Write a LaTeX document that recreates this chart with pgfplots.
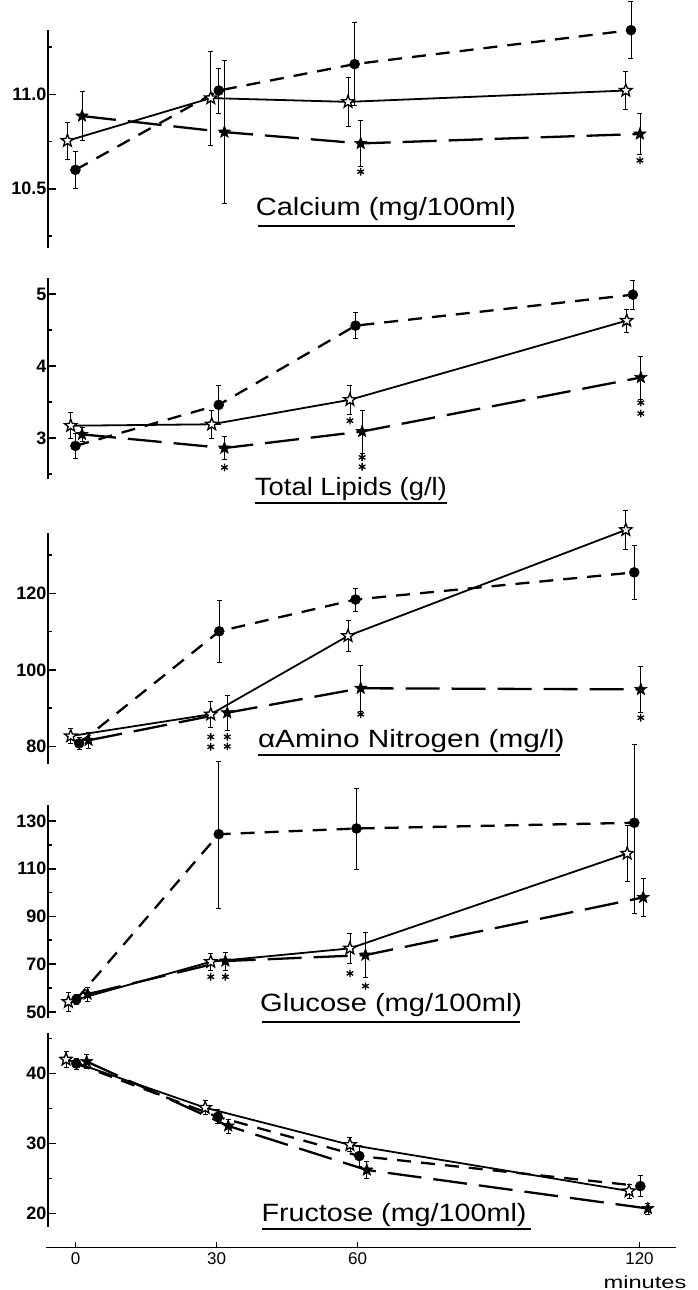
\documentclass[border=0pt]{standalone}
\usepackage{pgfplots}
\pgfplotsset{compat=1.18}
\usepackage{fontspec}
\setmainfont{Liberation Sans}
\usepackage{graphicx}

\pgfdeclareplotmark{fivestar}{%
  \pgfpathmoveto{\pgfpointpolar{90}{\pgfplotmarksize}}%
  \pgfpathlineto{\pgfpointpolar{126}{0.42*\pgfplotmarksize}}%
  \pgfpathlineto{\pgfpointpolar{162}{\pgfplotmarksize}}%
  \pgfpathlineto{\pgfpointpolar{198}{0.42*\pgfplotmarksize}}%
  \pgfpathlineto{\pgfpointpolar{234}{\pgfplotmarksize}}%
  \pgfpathlineto{\pgfpointpolar{270}{0.42*\pgfplotmarksize}}%
  \pgfpathlineto{\pgfpointpolar{306}{\pgfplotmarksize}}%
  \pgfpathlineto{\pgfpointpolar{342}{0.42*\pgfplotmarksize}}%
  \pgfpathlineto{\pgfpointpolar{18}{\pgfplotmarksize}}%
  \pgfpathlineto{\pgfpointpolar{54}{0.42*\pgfplotmarksize}}%
  \pgfpathclose
  \pgfusepathqfillstroke
}

\pgfplotsset{
  panel/.style={
    x=4.7pt, xmin=-5.9, xmax=128,
    axis x line=none, axis y line=left,
    axis line style={-, line width=1.8pt},
    clip=false,
    tick align=inside,
    major tick length=8pt, minor tick length=4pt,
    every tick/.style={black, line width=1.6pt},
    yticklabel style={font=\bfseries\fontsize{18}{18}\selectfont, inner sep=1pt},
    anchor=south west,
  },
  eb/.style={error bars/.cd, y dir=both, y explicit,
    error bar style={line width=0.7pt, solid},
    error mark options={rotate=90, mark size=2.5pt, line width=0.7pt, solid}},
  circ/.style={black, line width=2.3pt, dash pattern=on 14pt off 10pt,
    mark=*, mark size=5pt, mark options={solid, fill=black, line width=0.5pt}, eb},
  ostar/.style={black, line width=1.8pt, solid,
    mark=fivestar, mark size=6.5pt, mark options={solid, fill=white, line width=1.3pt}, eb},
  fstar/.style={black, line width=2.3pt, dash pattern=on 34pt off 12pt,
    mark=fivestar, mark size=6.5pt, mark options={solid, fill=black, line width=0.5pt}, eb},
  ast/.style={black, only marks, mark=asterisk, mark size=3.8pt, mark options={solid, line width=1.3pt}},
}

\newcommand{\ptitle}[4]{%
  \node[anchor=base west, inner sep=0pt] at (#1pt,-#2pt)
    {\resizebox{#3pt}{\height}{\fontsize{25}{25}\selectfont #4}};}

\begin{document}
\begin{tikzpicture}
\useasboundingbox (0,0) rectangle (697pt,-1290pt);

% ---------------- Calcium ----------------
\begin{axis}[panel, at={(47.7pt,-248pt)}, y=188.8pt, ymin=10.186, ymax=11.34,
  ytick={10.5,11.0}, yticklabels={10.5,11.0}, minor ytick={10.25,10.75,11.25}]
\addplot[circ] table[x=x,y=y,y error plus=p,y error minus=m] {
x y p m
0 10.60 0.10 0.10
30.5 11.02 0.12 0.12
59.4 11.16 0.22 0.22
118.2 11.34 0.15 0.15
};
\addplot[ostar] table[x=x,y=y,y error plus=p,y error minus=m] {
x y p m
-1.7 10.754 0.10 0.10
28.8 10.98 0.25 0.25
58 10.96 0.13 0.13
117.1 11.02 0.10 0.10
};
\addplot[fstar] table[x=x,y=y,y error plus=p,y error minus=m] {
x y p m
1.4 10.885 0.13 0.13
31.7 10.80 0.38 0.38
60.7 10.74 0.12 0.12
120.1 10.79 0.11 0.11
};
\addplot[ast] coordinates {(60.7,10.59) (120.1,10.65)};
\end{axis}

% ---------------- Total lipids ----------------
\begin{axis}[panel, at={(47.7pt,-479pt)}, y=72pt, ymin=2.43, ymax=5.22,
  ytick={3,4,5}, yticklabels={3,4,5}, minor ytick={2.5,3.5,4.5}]
\addplot[circ] table[x=x,y=y,y error plus=p,y error minus=m] {
x y p m
0 2.89 0.17 0.17
30.5 3.46 0.27 0.27
59.6 4.56 0.18 0.18
118.6 4.99 0.20 0.20
};
\addplot[ostar] table[x=x,y=y,y error plus=p,y error minus=m] {
x y p m
-1 3.17 0.18 0.18
29 3.19 0.20 0.20
58.4 3.53 0.20 0.20
117.3 4.63 0.16 0.16
};
\addplot[fstar] table[x=x,y=y,y error plus=p,y error minus=m] {
x y p m
1.4 3.05 0.10 0.10
31.7 2.86 0.16 0.16
61 3.09 0.30 0.30
120.3 3.84 0.30 0.30
};
\addplot[ast] coordinates {(58.4,3.24) (31.7,2.59) (61,2.73) (61,2.60) (120.3,3.49) (120.3,3.34)};
\end{axis}

% ---------------- alpha amino nitrogen ----------------
\begin{axis}[panel, at={(47.7pt,-764pt)}, y=3.825pt, ymin=75.4, ymax=135.7,
  ytick={80,100,120}, yticklabels={80,100,120}, minor ytick={90,110,130}]
\addplot[circ] table[x=x,y=y,y error plus=p,y error minus=m] {
x y p m
0.8 80.8 1.5 1.5
30.6 110.1 8 8
59.6 118.4 3 3
118.9 125.5 7 7
};
\addplot[ostar] table[x=x,y=y,y error plus=p,y error minus=m] {
x y p m
-1 82.7 2 2
28.8 88.4 3.5 3.5
58 108.9 4 4
117.1 136.6 5 5
};
\addplot[fstar] table[x=x,y=y,y error plus=p,y error minus=m] {
x y p m
2.8 81.6 2 2
32.3 88.8 4.5 4.5
60.7 95.2 6 6
120.3 94.9 6 6
};
\addplot[ast] coordinates {(28.8,82.5) (28.8,79.9) (32.3,82.5) (32.3,80) (60.7,88.4) (120.3,87.5)};
\end{axis}

% ---------------- Glucose ----------------
\begin{axis}[panel, at={(47.7pt,-1018pt)}, y=2.384pt, ymin=47.4, ymax=136.7,
  ytick={50,70,90,110,130}, yticklabels={50,70,90,110,130}, minor ytick={60,80,100,120}]
\addplot[circ] table[x=x,y=y,y error plus=p,y error minus=m] {
x y p m
0.2 55.2 2 2
30.5 124.5 30.5 31
59.8 126.9 17 17
118.9 129.3 33 38
};
\addplot[ostar] table[x=x,y=y,y error plus=p,y error minus=m] {
x y p m
-1.5 54.2 4 4
28.8 71 3.7 3.7
58.4 76.6 6.4 6.4
117.4 116.4 11.7 11.7
};
\addplot[fstar] table[x=x,y=y,y error plus=p,y error minus=m] {
x y p m
2.6 57.4 3 3
31.9 71.3 3.7 3.7
61.7 73.8 9.5 9.5
120.8 98 8 8
};
\addplot[ast] coordinates {(28.8,64.7) (31.9,64.7) (58.4,66.1) (61.7,60.8)};
\end{axis}

% ---------------- Fructose ----------------
\begin{axis}[panel, at={(47.7pt,-1226.7pt)}, y=7pt, ymin=18.1, ymax=45.8,
  ytick={20,30,40}, yticklabels={20,30,40}, minor ytick={25,35,45}]
\addplot[circ] table[x=x,y=y,y error plus=p,y error minus=m] {
x y p m
0.2 41.4 0.8 0.8
30.3 33.8 1 1
60.4 28.2 1.5 1.5
120.2 23.9 1.5 1.5
};
\addplot[ostar] table[x=x,y=y,y error plus=p,y error minus=m] {
x y p m
-2 42 1.2 1.2
27.6 35.1 1 1
58.4 29.8 1 1
117.8 23.2 1 1
};
\addplot[fstar] table[x=x,y=y,y error plus=p,y error minus=m] {
x y p m
2.4 41.7 1 1
32.5 32.5 1 1
62 26.2 1.2 1.2
121.8 20.7 0.8 0.8
};
\end{axis}

% ---------------- shared time axis ----------------
\begin{axis}[x=4.7pt, xmin=-6.28, xmax=127.8, y=1pt, ymin=0, ymax=1,
  at={(46pt,-1247.3pt)}, anchor=south west,
  axis x line=bottom, axis y line=none,
  axis line style={-, line width=1.6pt},
  xtick={0,30,60,120}, xticklabels={0,30,60,120},
  tick align=inside, major tick length=5pt,
  every tick/.style={black, line width=1.6pt},
  xticklabel style={font=\fontsize{17}{17}\selectfont, inner sep=1pt, yshift=-4pt},
  clip=false]
\addplot[draw=none] coordinates {(0,0) (120,0)};
\end{axis}
\node[anchor=base, inner sep=0pt] at (645pt,-1288pt)
  {\resizebox{83pt}{\height}{\fontsize{17.5}{17.5}\selectfont minutes}};

% ---------------- panel titles ----------------
\ptitle{255.6}{215}{260}{Calcium (mg/100ml)}
\ptitle{254.7}{495}{192}{Total Lipids (g/l)}
\ptitle{257.8}{747}{306.7}{αAmino Nitrogen (mg/l)}
\ptitle{260}{1011.7}{262}{Glucose (mg/100ml)}
\ptitle{261.3}{1221.7}{265}{Fructose (mg/100ml)}
\draw[line width=1.5pt] (258pt,-226pt) -- (515pt,-226pt);
\draw[line width=1.5pt] (255pt,-503pt) -- (447pt,-503pt);
\draw[line width=1.5pt] (258pt,-755pt) -- (560pt,-755pt);
\draw[line width=1.5pt] (262pt,-1022pt) -- (520pt,-1022pt);
\draw[line width=1.5pt] (262pt,-1229pt) -- (531pt,-1229pt);
\end{tikzpicture}
\end{document}
